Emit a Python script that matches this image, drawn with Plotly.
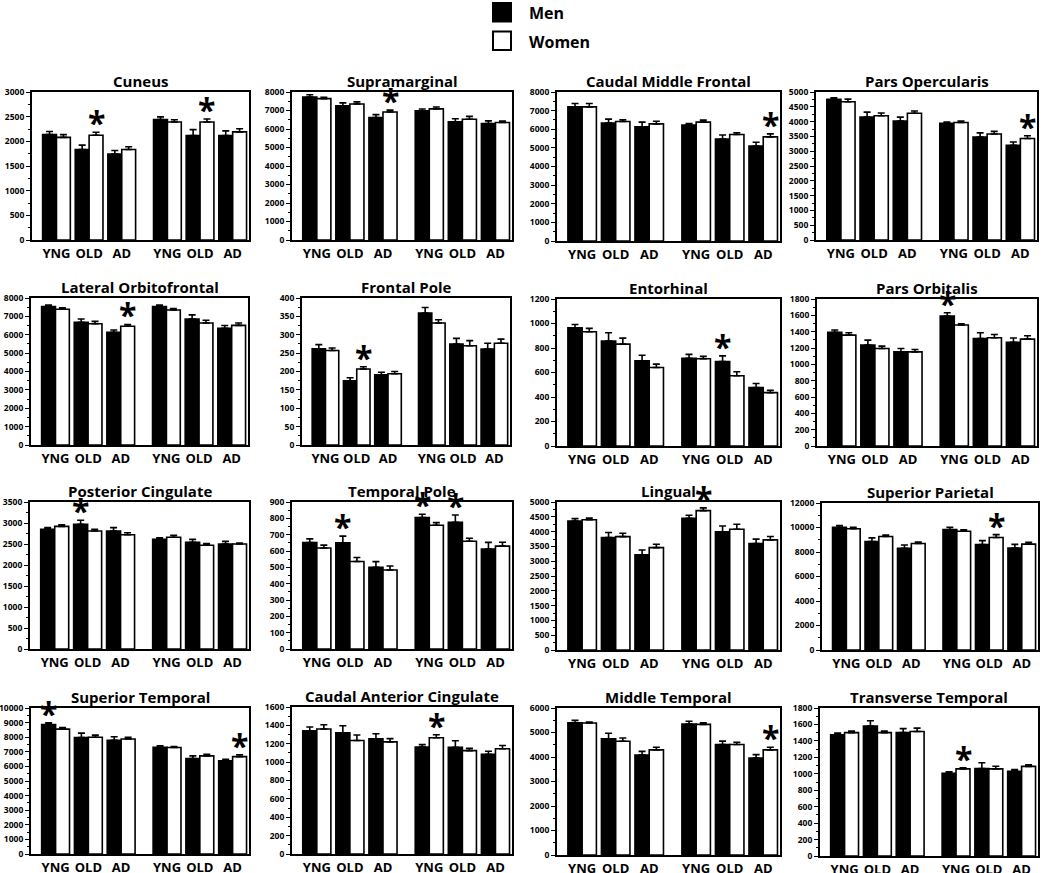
import plotly.graph_objects as go

# ---------------- data ----------------
AGE_GROUPS = ["YNG", "OLD", "AD"]
SEXES = ["Men", "Women"]

CUNEUS_MEN = [2140, 1834, 1740, 2440, 2117, 2117]
CUNEUS_MEN_SE = [60, 90, 75, 55, 120, 95]
CUNEUS_WOMEN = [2080, 2124, 1834, 2393, 2393, 2191]
CUNEUS_WOMEN_SE = [55, 60, 55, 45, 60, 65]
CUNEUS_STARS = [("Women", 1), ("Women", 4)]

SUPRAMARGINAL_MEN = [7730, 7250, 6616, 6990, 6385, 6300]
SUPRAMARGINAL_MEN_SE = [120, 160, 160, 90, 170, 140]
SUPRAMARGINAL_WOMEN = [7640, 7355, 6922, 7090, 6530, 6350]
SUPRAMARGINAL_WOMEN_SE = [80, 110, 100, 100, 150, 80]
SUPRAMARGINAL_STARS = [("Women", 2)]

CAUDAL_MID_FRONTAL_MEN = [7200, 6330, 6130, 6220, 5480, 5100]
CAUDAL_MID_FRONTAL_MEN_SE = [180, 215, 250, 90, 215, 200]
CAUDAL_MID_FRONTAL_WOMEN = [7200, 6420, 6290, 6380, 5720, 5590]
CAUDAL_MID_FRONTAL_WOMEN_SE = [180, 90, 140, 110, 90, 160]
CAUDAL_MID_FRONTAL_STARS = [("Women", 5)]

PARS_OPERCULARIS_MEN = [4750, 4150, 4020, 3940, 3480, 3200]
PARS_OPERCULARIS_MEN_SE = [55, 170, 130, 45, 140, 110]
PARS_OPERCULARIS_WOMEN = [4670, 4200, 4280, 3970, 3580, 3430]
PARS_OPERCULARIS_WOMEN_SE = [90, 90, 80, 45, 90, 90]
PARS_OPERCULARIS_STARS = [("Women", 5)]

LAT_ORBITOFRONTAL_MEN = [7530, 6680, 6130, 7530, 6850, 6350]
LAT_ORBITOFRONTAL_MEN_SE = [80, 180, 130, 80, 230, 150]
LAT_ORBITOFRONTAL_WOMEN = [7390, 6600, 6460, 7350, 6640, 6510]
LAT_ORBITOFRONTAL_WOMEN_SE = [80, 130, 100, 80, 150, 130]
LAT_ORBITOFRONTAL_STARS = [("Women", 2)]

FRONTAL_POLE_MEN = [262, 175, 191, 359, 275, 261]
FRONTAL_POLE_MEN_SE = [11, 8, 7, 15, 15, 16]
FRONTAL_POLE_WOMEN = [257, 207, 194, 332, 270, 277]
FRONTAL_POLE_WOMEN_SE = [7, 6, 6, 9, 14, 11]
FRONTAL_POLE_STARS = [("Women", 1)]

ENTORHINAL_MEN = [965, 856, 695, 715, 690, 477]
ENTORHINAL_MEN_SE = [27, 68, 46, 33, 46, 33]
ENTORHINAL_WOMEN = [933, 832, 641, 712, 573, 436]
ENTORHINAL_WOMEN_SE = [27, 49, 27, 20, 33, 19]
ENTORHINAL_STARS = [("Men", 4)]

PARS_ORBITALIS_MEN = [1391, 1235, 1153, 1591, 1317, 1270]
PARS_ORBITALIS_MEN_SE = [29, 61, 41, 41, 70, 53]
PARS_ORBITALIS_WOMEN = [1358, 1194, 1153, 1481, 1325, 1309]
PARS_ORBITALIS_WOMEN_SE = [29, 29, 29, 16, 41, 41]
PARS_ORBITALIS_STARS = [("Men", 3)]

POST_CINGULATE_MEN = [2850, 2970, 2810, 2610, 2540, 2500]
POST_CINGULATE_MEN_SE = [40, 95, 79, 40, 71, 63]
POST_CINGULATE_WOMEN = [2920, 2810, 2720, 2660, 2470, 2500]
POST_CINGULATE_WOMEN_SE = [40, 40, 47, 47, 40, 24]
POST_CINGULATE_STARS = [("Men", 1)]

TEMPORAL_POLE_MEN = [652, 650, 500, 805, 775, 612]
TEMPORAL_POLE_MEN_SE = [22, 41, 35, 20, 45, 41]
TEMPORAL_POLE_WOMEN = [618, 536, 484, 758, 660, 630]
TEMPORAL_POLE_WOMEN_SE = [18, 24, 24, 16, 18, 24]
TEMPORAL_POLE_STARS = [("Men", 1), ("Men", 3), ("Men", 4)]

LINGUAL_MEN = [4360, 3800, 3220, 4450, 3990, 3600]
LINGUAL_MEN_SE = [80, 170, 157, 100, 200, 146]
LINGUAL_WOMEN = [4400, 3830, 3460, 4710, 4080, 3720]
LINGUAL_WOMEN_SE = [56, 112, 112, 90, 170, 112]
LINGUAL_STARS = [("Women", 3)]

SUP_PARIETAL_MEN = [10020, 8850, 8300, 9830, 8600, 8320]
SUP_PARIETAL_MEN_SE = [140, 300, 270, 190, 330, 300]
SUP_PARIETAL_WOMEN = [9900, 9270, 8700, 9700, 9180, 8640]
SUP_PARIETAL_WOMEN_SE = [110, 110, 110, 110, 240, 160]
SUP_PARIETAL_STARS = [("Women", 4)]

SUP_TEMPORAL_MEN = [8870, 7980, 7780, 7300, 6540, 6380]
SUP_TEMPORAL_MEN_SE = [110, 300, 250, 110, 180, 110]
SUP_TEMPORAL_WOMEN = [8550, 8000, 7880, 7290, 6720, 6670]
SUP_TEMPORAL_WOMEN_SE = [110, 140, 110, 70, 110, 130]
SUP_TEMPORAL_STARS = [("Men", 0), ("Women", 5)]

CAUDAL_ANT_CINGULATE_MEN = [1340, 1320, 1255, 1165, 1160, 1085]
CAUDAL_ANT_CINGULATE_MEN_SE = [43, 76, 54, 25, 72, 33]
CAUDAL_ANT_CINGULATE_WOMEN = [1360, 1235, 1220, 1265, 1125, 1145]
CAUDAL_ANT_CINGULATE_WOMEN_SE = [47, 61, 36, 33, 25, 36]
CAUDAL_ANT_CINGULATE_STARS = [("Women", 3)]

MID_TEMPORAL_MEN = [5400, 4740, 4080, 5350, 4510, 3960]
MID_TEMPORAL_MEN_SE = [95, 230, 150, 110, 136, 136]
MID_TEMPORAL_WOMEN = [5390, 4640, 4290, 5330, 4510, 4290]
MID_TEMPORAL_WOMEN_SE = [40, 136, 110, 70, 95, 110]
MID_TEMPORAL_STARS = [("Women", 5)]

TRANSV_TEMPORAL_MEN = [1475, 1580, 1500, 1005, 1065, 1030]
TRANSV_TEMPORAL_MEN_SE = [20, 65, 49, 20, 69, 20]
TRANSV_TEMPORAL_WOMEN = [1500, 1500, 1515, 1060, 1060, 1090]
TRANSV_TEMPORAL_WOMEN_SE = [20, 20, 40, 12, 32, 20]
TRANSV_TEMPORAL_STARS = [("Women", 3)]

# y-axis (max, major step) for each panel
Y_AXES = [(3000, 500), (8000, 1000), (8000, 1000), (5000, 500),
          (8000, 1000), (400, 50), (1200, 200), (1800, 200),
          (3500, 500), (900, 100), (5000, 500), (12000, 2000),
          (10000, 1000), (1600, 200), (6000, 1000), (1800, 200)]

PANELS = [
    ("Cuneus", CUNEUS_MEN, CUNEUS_MEN_SE, CUNEUS_WOMEN, CUNEUS_WOMEN_SE, CUNEUS_STARS),
    ("Supramarginal", SUPRAMARGINAL_MEN, SUPRAMARGINAL_MEN_SE, SUPRAMARGINAL_WOMEN, SUPRAMARGINAL_WOMEN_SE, SUPRAMARGINAL_STARS),
    ("Caudal Middle Frontal", CAUDAL_MID_FRONTAL_MEN, CAUDAL_MID_FRONTAL_MEN_SE, CAUDAL_MID_FRONTAL_WOMEN, CAUDAL_MID_FRONTAL_WOMEN_SE, CAUDAL_MID_FRONTAL_STARS),
    ("Pars Opercularis", PARS_OPERCULARIS_MEN, PARS_OPERCULARIS_MEN_SE, PARS_OPERCULARIS_WOMEN, PARS_OPERCULARIS_WOMEN_SE, PARS_OPERCULARIS_STARS),
    ("Lateral Orbitofrontal", LAT_ORBITOFRONTAL_MEN, LAT_ORBITOFRONTAL_MEN_SE, LAT_ORBITOFRONTAL_WOMEN, LAT_ORBITOFRONTAL_WOMEN_SE, LAT_ORBITOFRONTAL_STARS),
    ("Frontal Pole", FRONTAL_POLE_MEN, FRONTAL_POLE_MEN_SE, FRONTAL_POLE_WOMEN, FRONTAL_POLE_WOMEN_SE, FRONTAL_POLE_STARS),
    ("Entorhinal", ENTORHINAL_MEN, ENTORHINAL_MEN_SE, ENTORHINAL_WOMEN, ENTORHINAL_WOMEN_SE, ENTORHINAL_STARS),
    ("Pars Orbitalis", PARS_ORBITALIS_MEN, PARS_ORBITALIS_MEN_SE, PARS_ORBITALIS_WOMEN, PARS_ORBITALIS_WOMEN_SE, PARS_ORBITALIS_STARS),
    ("Posterior Cingulate", POST_CINGULATE_MEN, POST_CINGULATE_MEN_SE, POST_CINGULATE_WOMEN, POST_CINGULATE_WOMEN_SE, POST_CINGULATE_STARS),
    ("Temporal Pole", TEMPORAL_POLE_MEN, TEMPORAL_POLE_MEN_SE, TEMPORAL_POLE_WOMEN, TEMPORAL_POLE_WOMEN_SE, TEMPORAL_POLE_STARS),
    ("Lingual", LINGUAL_MEN, LINGUAL_MEN_SE, LINGUAL_WOMEN, LINGUAL_WOMEN_SE, LINGUAL_STARS),
    ("Superior Parietal", SUP_PARIETAL_MEN, SUP_PARIETAL_MEN_SE, SUP_PARIETAL_WOMEN, SUP_PARIETAL_WOMEN_SE, SUP_PARIETAL_STARS),
    ("Superior Temporal", SUP_TEMPORAL_MEN, SUP_TEMPORAL_MEN_SE, SUP_TEMPORAL_WOMEN, SUP_TEMPORAL_WOMEN_SE, SUP_TEMPORAL_STARS),
    ("Caudal Anterior Cingulate", CAUDAL_ANT_CINGULATE_MEN, CAUDAL_ANT_CINGULATE_MEN_SE, CAUDAL_ANT_CINGULATE_WOMEN, CAUDAL_ANT_CINGULATE_WOMEN_SE, CAUDAL_ANT_CINGULATE_STARS),
    ("Middle Temporal", MID_TEMPORAL_MEN, MID_TEMPORAL_MEN_SE, MID_TEMPORAL_WOMEN, MID_TEMPORAL_WOMEN_SE, MID_TEMPORAL_STARS),
    ("Transverse Temporal", TRANSV_TEMPORAL_MEN, TRANSV_TEMPORAL_MEN_SE, TRANSV_TEMPORAL_WOMEN, TRANSV_TEMPORAL_WOMEN_SE, TRANSV_TEMPORAL_STARS),
]

# ---------------- layout ----------------
W, H = 1050, 873
FONT = "Open Sans"

# axis boxes in pixels (x0, x1, ytop, ybottom)
PANEL_PX = [
    (32, 249, 92, 240), (292, 512, 92, 240), (557, 780, 92, 241), (816, 1037, 92, 240),
    (31, 248, 298, 445), (302, 510, 298, 445), (557, 780, 299, 446), (817, 1037, 299, 446),
    (30, 249, 502, 649), (292, 512, 502, 649), (557, 780, 502, 650), (822, 1038, 503, 650),
    (31, 249, 708, 854), (292, 512, 707, 854), (557, 780, 708, 855), (820, 1038, 708, 856),
]

# category positions: two blocks of YNG/OLD/AD with a wider gap between blocks
CATS = AGE_GROUPS * 2
POS = [i + (0.4 if i >= 3 else 0.0) for i in range(len(CATS))]
HALF = 0.2125  # half the width of a single bar (bargap 0.15)

fig = go.Figure()
layout = dict(
    template="none",
    width=W, height=H,
    margin=dict(l=0, r=0, t=0, b=0, pad=0),
    paper_bgcolor="white", plot_bgcolor="white",
    barmode="group", bargap=0.15, bargroupgap=0,
    showlegend=False,
    font=dict(family=FONT, color="black"),
)
annotations = []
shapes = []

for k, (title, men, men_se, women, women_se, stars) in enumerate(PANELS):
    n = k + 1
    xa = "x" if n == 1 else f"x{n}"
    ya = "y" if n == 1 else f"y{n}"
    x0, x1, yt, yb = PANEL_PX[k]
    ymax, dtick = Y_AXES[k]

    for sex, vals, se, fill in (("Men", men, men_se, "black"), ("Women", women, women_se, "white")):
        fig.add_trace(go.Bar(
            x=POS, y=vals, name=sex, xaxis=xa, yaxis=ya,
            marker=dict(color=fill, line=dict(color="black", width=1.6)),
            error_y=dict(type="data", symmetric=False, array=se, arrayminus=[0] * len(se),
                         color="black", thickness=1.6, width=3.5),
            hoverinfo="skip",
        ))

    layout["xaxis" if n == 1 else f"xaxis{n}"] = dict(
        domain=[x0 / W, x1 / W], anchor=ya, automargin=False,
        range=[-0.75, 5.9], tickvals=POS, ticktext=CATS, ticks="", ticklen=0, tickangle=0,
        tickfont=dict(size=13, family=FONT, weight="bold"),
        showline=True, linecolor="black", linewidth=2, mirror=True,
        showgrid=False, zeroline=False, fixedrange=True,
    )
    layout["yaxis" if n == 1 else f"yaxis{n}"] = dict(
        domain=[1 - yb / H, 1 - yt / H], anchor=xa, automargin=False,
        range=[0, ymax], dtick=dtick, tick0=0, tickformat="d",
        ticks="outside", ticklen=4, tickwidth=1.3, tickcolor="black",
        minor=dict(dtick=dtick / 2, ticks="outside", ticklen=2, tickwidth=1, tickcolor="black"),
        tickfont=dict(size=8.5, family=FONT, weight="bold"),
        showline=True, linecolor="black", linewidth=2, mirror=True,
        showgrid=False, zeroline=False, fixedrange=True,
    )

    annotations.append(dict(
        text=title, xref="paper", yref="paper",
        x=(x0 + x1) / 2 / W, y=1 - (yt - 11) / H,
        xanchor="center", yanchor="middle", showarrow=False,
        font=dict(size=15, family=FONT, weight="bold", color="black"),
    ))

    for sex, idx in stars:
        vals, se = (men, men_se) if sex == "Men" else (women, women_se)
        xs = POS[idx] + (-HALF if sex == "Men" else HALF)
        annotations.append(dict(
            text="*", xref=xa, yref=ya, x=xs, y=vals[idx] + se[idx],
            xanchor="center", yanchor="bottom", yshift=-14, showarrow=False,
            font=dict(size=32, family=FONT, weight="bold", color="black"),
        ))

# legend (drawn as swatches + labels)
for i, (sex, fill) in enumerate(zip(SEXES, ["black", "white"])):
    top = 3 + i * 28.5
    shapes.append(dict(type="rect", xref="paper", yref="paper",
                       x0=493 / W, x1=511 / W, y0=1 - (top + 18.5) / H, y1=1 - top / H,
                       fillcolor=fill, line=dict(color="black", width=2)))
    annotations.append(dict(text=sex, xref="paper", yref="paper",
                            x=527 / W, y=1 - (top + 10) / H, xanchor="left", yanchor="middle",
                            showarrow=False,
                            font=dict(size=16, family=FONT, weight="bold", color="black")))

layout["annotations"] = annotations
layout["shapes"] = shapes
fig.update_layout(**layout)
fig.write_html("out.html", config={"displayModeBar": False},
               post_script="document.body.style.margin='0px';")
